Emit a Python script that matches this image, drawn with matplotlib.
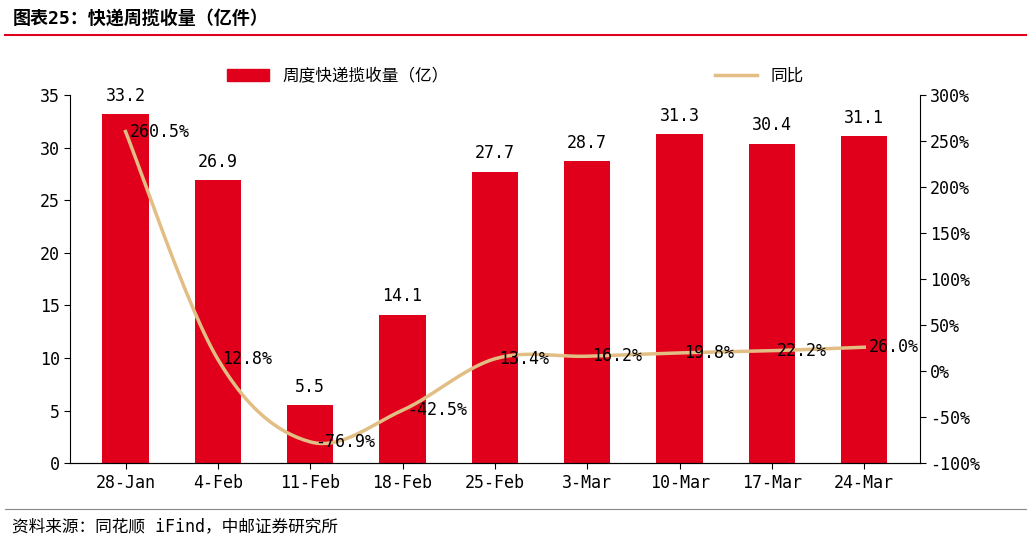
import matplotlib
matplotlib.use("Agg")
import matplotlib.pyplot as plt
import numpy as np
from matplotlib.lines import Line2D

plt.rcParams['font.family'] = ['DejaVu Sans Mono', 'Noto Sans CJK SC']

categories = ['28-Jan', '4-Feb', '11-Feb', '18-Feb', '25-Feb', '3-Mar', '10-Mar', '17-Mar', '24-Mar']
volume = [33.2, 26.9, 5.5, 14.1, 27.7, 28.7, 31.3, 30.4, 31.1]
yoy = [260.5, 12.8, -76.9, -42.5, 13.4, 16.2, 19.8, 22.2, 26.0]

red = '#E0001B'
tan = '#E2BE84'

fig = plt.figure(figsize=(10.31, 5.41), dpi=100)
ax = fig.add_axes([0.068, 0.144, 0.824, 0.68])
x = np.arange(len(categories))
ax.bar(x, volume, width=0.5, color=red)
for xi, v in zip(x, volume):
    ax.text(xi, v + 0.9, f'{v}', ha='center', va='bottom', fontsize=12)
ax.set_ylim(0, 35)
ax.set_yticks(range(0, 36, 5))
ax.set_xlim(-0.6, len(categories) - 0.4)
ax.set_xticks(x)
ax.set_xticklabels(categories)
ax.tick_params(labelsize=12, length=4)
for s in ['top', 'right']:
    ax.spines[s].set_visible(False)

ax2 = ax.twinx()
def smooth(xs, ys, n=30):
    xs = np.asarray(xs, float); ys = np.asarray(ys, float)
    P = np.column_stack([xs, ys])
    P = np.vstack([P[0], P, P[-1]])
    out = []
    for i in range(1, len(P) - 2):
        p0, p1, p2, p3 = P[i-1], P[i], P[i+1], P[i+2]
        t = np.linspace(0, 1, n)[:, None]
        pt = 0.5 * (2*p1 + (-p0+p2)*t + (2*p0-5*p1+4*p2-p3)*t**2 + (-p0+3*p1-3*p2+p3)*t**3)
        out.append(pt)
    o = np.vstack(out)
    return o[:, 0], o[:, 1]
sx, sy = smooth(x, yoy)
ax2.plot(sx, sy, color=tan, lw=2.5)
for xi, v in zip(x, yoy):
    ax2.text(xi + 0.05, v, f'{v:.1f}%', ha='left', va='center', fontsize=12)
ax2.set_ylim(-100, 300)
ax2.set_yticks(range(-100, 301, 50))
ax2.set_yticklabels([f'{t}%' for t in range(-100, 301, 50)])
ax2.tick_params(labelsize=12, length=4)
for s in ['top', 'left']:
    ax2.spines[s].set_visible(False)

handles = [plt.Rectangle((0, 0), 1, 1, color=red), Line2D([0], [0], color=tan, lw=2.5)]
fig.legend(handles, ['周度快递揽收量（亿）', '同比'], loc='center', bbox_to_anchor=(0.5, 0.86),
           ncol=2, frameon=False, fontsize=12, columnspacing=16, handlelength=2.5)

fig.text(0.012, 0.965, '图表25：快递周揽收量（亿件）', fontsize=13, fontweight='bold', va='center')
fig.add_artist(Line2D([0.005, 0.995], [0.935, 0.935], color=red, lw=1.5))
fig.add_artist(Line2D([0.005, 0.995], [0.06, 0.06], color='#888888', lw=0.8))
fig.text(0.012, 0.028, '资料来源：同花顺 iFind，中邮证券研究所', fontsize=12, va='center')

fig.savefig('out.png', dpi=100)
